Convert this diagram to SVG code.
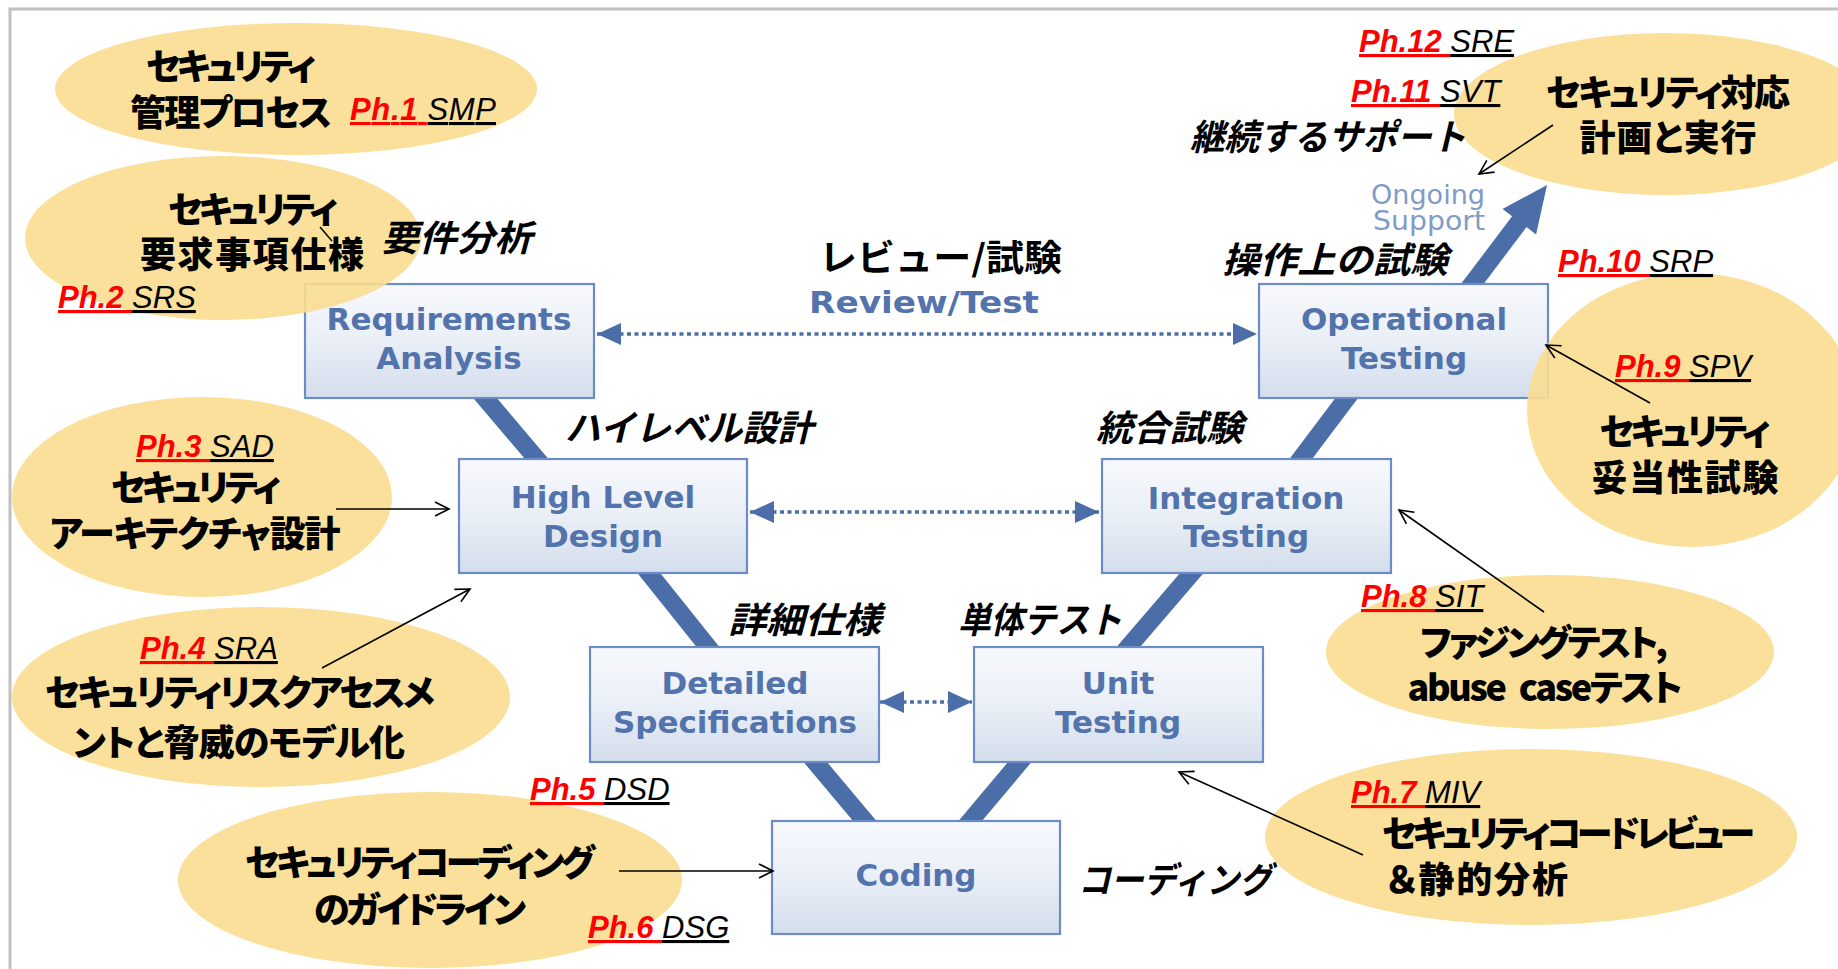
<svg xmlns="http://www.w3.org/2000/svg" width="1838" height="969" viewBox="0 0 1838 969">
<defs>
  <linearGradient id="boxGrad" x1="0" y1="0" x2="0" y2="1">
    <stop offset="0" stop-color="#f7f9fd"/>
    <stop offset="0.5" stop-color="#eaeff7"/>
    <stop offset="1" stop-color="#d3ddec"/>
  </linearGradient>
  <marker id="blueHead" markerUnits="userSpaceOnUse" markerWidth="24" markerHeight="22" refX="24" refY="11" orient="auto-start-reverse" viewBox="0 0 24 22">
    <path d="M0,0 L24,11 L0,22 Z" fill="#4b6ea8"/>
  </marker>
  <marker id="openHead" markerUnits="userSpaceOnUse" markerWidth="18" markerHeight="18" refX="16" refY="9" orient="auto" viewBox="0 0 18 18">
    <path d="M2,2 L16,9 L2,16" fill="none" stroke="#000" stroke-width="1.6"/>
  </marker>
  <style>
    .box { fill:url(#boxGrad); stroke:#6b8cc4; stroke-width:2.2; }
    .btxt { font-family:"DejaVu Sans", Verdana, sans-serif; font-weight:bold; font-size:31px; fill:#5273ab; text-anchor:middle; }
    .vbar { stroke:#4b6ea8; stroke-width:18; fill:none; }
    .dot { stroke:#4b6ea8; stroke-width:3.5; stroke-dasharray:4 3.5; fill:none; marker-start:url(#blueHead); marker-end:url(#blueHead); }
    .ell { fill:#f9dd90; fill-opacity:0.9; }
    .jb { font-family:"Noto Sans CJK JP", sans-serif; font-weight:900; font-size:36px; font-feature-settings:"palt"; fill:#000; }
    .mid { text-anchor:middle; }
    .ji { font-family:"Noto Sans CJK JP", sans-serif; font-style:italic; font-weight:bold; font-size:36px; fill:#000; }
    .ph { font-family:"Liberation Sans", Arial, sans-serif; font-style:italic; font-size:31px; }
    .phn { fill:#ff0000; font-weight:bold; text-decoration:underline; }
    .acr { fill:#000; text-decoration:underline; }
    .thin { stroke:#000; stroke-width:1.6; fill:none; marker-end:url(#openHead); }
  </style>
</defs>

<rect width="1838" height="969" fill="#ffffff"/>
<path d="M10,969 L10,9 L1838,9" fill="none" stroke="#c0c0c0" stroke-width="3"/>

<g id="connectors">
  <line class="vbar" x1="479" y1="391" x2="541" y2="464"/>
  <line class="vbar" x1="644" y1="567" x2="712" y2="652"/>
  <line class="vbar" x1="811" y1="757" x2="869" y2="826"/>
  <line class="vbar" x1="966" y1="826" x2="1024" y2="757"/>
  <line class="vbar" x1="1124" y1="652" x2="1197" y2="567"/>
  <line class="vbar" x1="1297" y1="464" x2="1352" y2="391"/>
  <polygon id="ongoing-arrow" points="1459.8,285.6 1512.1,216.3 1502.5,209 1547,185 1536.1,234.4 1526.5,227.1 1474.2,296.4" fill="#4b6ea8"/>
  <line class="dot" x1="597" y1="334" x2="1257" y2="334"/>
  <line class="dot" x1="750" y1="512" x2="1099" y2="512"/>
  <line class="dot" x1="880" y1="702" x2="972" y2="702"/>
</g>

<g id="box-req"><rect class="box" x="305" y="284" width="289" height="114"/>
  <text class="btxt" x="449" y="330">Requirements</text><text class="btxt" x="449" y="369">Analysis</text></g>
<g id="box-hld"><rect class="box" x="459" y="459" width="288" height="114"/>
  <text class="btxt" x="603" y="508">High Level</text><text class="btxt" x="603" y="547">Design</text></g>
<g id="box-ds"><rect class="box" x="590" y="647" width="289" height="115"/>
  <text class="btxt" x="735" y="694">Detailed</text><text class="btxt" x="735" y="733">Specifications</text></g>
<g id="box-coding"><rect class="box" x="772" y="821" width="288" height="113"/>
  <text class="btxt" x="916" y="886">Coding</text></g>
<g id="box-ut"><rect class="box" x="974" y="647" width="289" height="115"/>
  <text class="btxt" x="1118" y="694">Unit</text><text class="btxt" x="1118" y="733">Testing</text></g>
<g id="box-it"><rect class="box" x="1102" y="459" width="289" height="114"/>
  <text class="btxt" x="1246" y="509">Integration</text><text class="btxt" x="1246" y="547">Testing</text></g>
<g id="box-ot"><rect class="box" x="1259" y="284" width="289" height="114"/>
  <text class="btxt" x="1404" y="330">Operational</text><text class="btxt" x="1404" y="369">Testing</text></g>

<g id="review-label">
  <text x="819" y="271" font-family="'Noto Sans CJK JP', sans-serif" font-weight="bold" font-size="36" textLength="243" lengthAdjust="spacingAndGlyphs">レビュー/試験</text>
  <text class="btxt" x="924" y="313" font-size="31" textLength="230" lengthAdjust="spacingAndGlyphs">Review/Test</text>
</g>
<g id="ongoing-label">
  <text x="1428" y="204" font-family="'DejaVu Sans', Verdana, sans-serif" font-size="27" fill="#7f9bc8" text-anchor="middle" textLength="114" lengthAdjust="spacingAndGlyphs">Ongoing</text>
  <text x="1429" y="230" font-family="'DejaVu Sans', Verdana, sans-serif" font-size="27" fill="#7f9bc8" text-anchor="middle" textLength="112" lengthAdjust="spacingAndGlyphs">Support</text>
</g>

<g id="ph1">
  <ellipse class="ell" cx="296" cy="89" rx="241" ry="66"/>
  <text class="jb mid" x="231" y="80" textLength="170">セキュリティ</text>
  <text class="jb mid" x="231" y="126" textLength="202">管理プロセス</text>
  <text class="ph" x="350" y="120" textLength="146"><tspan class="phn">Ph.1 </tspan><tspan class="acr">SMP</tspan></text>
</g>
<g id="ph2">
  <ellipse class="ell" cx="223" cy="238" rx="198" ry="82"/>
  <text class="jb mid" x="253" y="223" textLength="170">セキュリティ</text>
  <text class="jb mid" x="252" y="268" textLength="224">要求事項仕様</text>
  <line x1="320" y1="227" x2="332" y2="241" stroke="#000" stroke-width="1.5"/>
  <text class="ph" x="58" y="308"><tspan class="phn">Ph.2 </tspan><tspan class="acr">SRS</tspan></text>
</g>
<g id="ph3">
  <ellipse class="ell" cx="202" cy="497" rx="190" ry="100"/>
  <text class="ph" x="136" y="457"><tspan class="phn">Ph.3 </tspan><tspan class="acr">SAD</tspan></text>
  <text class="jb mid" x="196" y="501" textLength="170">セキュリティ</text>
  <text class="jb mid" x="195" y="547" textLength="291">アーキテクチャ設計</text>
</g>
<g id="ph4">
  <ellipse class="ell" cx="261" cy="697" rx="249" ry="90"/>
  <text class="ph" x="140" y="659"><tspan class="phn">Ph.4 </tspan><tspan class="acr">SRA</tspan></text>
  <text class="jb mid" x="240" y="706" textLength="390">セキュリティリスクアセスメ</text>
  <text class="jb mid" x="239" y="756" textLength="332">ントと脅威のモデル化</text>
</g>
<g id="ph5-ph6">
  <ellipse class="ell" cx="430" cy="880" rx="252" ry="88"/>
  <text class="jb mid" x="420" y="876" textLength="350">セキュリティコーディング</text>
  <text class="jb mid" x="420" y="923" textLength="212">のガイドライン</text>
  <text class="ph" x="530" y="800"><tspan class="phn">Ph.5 </tspan><tspan class="acr">DSD</tspan></text>
  <text class="ph" x="588" y="938"><tspan class="phn">Ph.6 </tspan><tspan class="acr">DSG</tspan></text>
</g>
<g id="ph7">
  <ellipse class="ell" cx="1531" cy="837" rx="266" ry="88"/>
  <text class="ph" x="1351" y="803"><tspan class="phn">Ph.7 </tspan><tspan class="acr">MIV</tspan></text>
  <text class="jb" x="1382" y="847" textLength="373">セキュリティコードレビュー</text>
  <text class="jb" x="1387" y="893" textLength="181">＆静的分析</text>
</g>
<g id="ph8">
  <ellipse class="ell" cx="1550" cy="652" rx="224" ry="77"/>
  <text class="ph" x="1361" y="607"><tspan class="phn">Ph.8 </tspan><tspan class="acr">SIT</tspan></text>
  <text class="jb mid" x="1544" y="656" textLength="248">ファジングテスト,</text>
  <text class="jb mid" x="1545" y="701" textLength="275">abuse <tspan dx="8">caseテスト</tspan></text>
</g>
<g id="ph9">
  <ellipse class="ell" cx="1692" cy="410" rx="165" ry="137"/>
  <text class="ph" x="1615" y="377"><tspan class="phn">Ph.9 </tspan><tspan class="acr">SPV</tspan></text>
  <text class="jb mid" x="1685" y="445" textLength="171">セキュリティ</text>
  <text class="jb mid" x="1685" y="491" textLength="187">妥当性試験</text>
</g>
<g id="ph10">
  <text class="ph" x="1558" y="272"><tspan class="phn">Ph.10 </tspan><tspan class="acr">SRP</tspan></text>
</g>
<g id="ph11-ph12">
  <ellipse class="ell" cx="1665" cy="114" rx="211" ry="81"/>
  <text class="ph" x="1359" y="52"><tspan class="phn">Ph.12 </tspan><tspan class="acr">SRE</tspan></text>
  <text class="ph" x="1351" y="102"><tspan class="phn">Ph.11 </tspan><tspan class="acr">SVT</tspan></text>
  <text class="jb mid" x="1668" y="106" textLength="244">セキュリティ対応</text>
  <text class="jb mid" x="1668" y="151" textLength="177">計画と実行</text>
</g>

<g id="phase-labels">
  <text class="ji" x="381" y="251" textLength="151" lengthAdjust="spacingAndGlyphs">要件分析</text>
  <text class="ji" x="565" y="441" textLength="248" lengthAdjust="spacingAndGlyphs">ハイレベル設計</text>
  <text class="ji" x="1096" y="441" textLength="147" lengthAdjust="spacingAndGlyphs">統合試験</text>
  <text class="ji" x="728" y="633" textLength="153" lengthAdjust="spacingAndGlyphs">詳細仕様</text>
  <text class="ji" x="958" y="633" textLength="164" lengthAdjust="spacingAndGlyphs">単体テスト</text>
  <text class="ji" x="1222" y="273" textLength="226" lengthAdjust="spacingAndGlyphs">操作上の試験</text>
  <text class="ji" x="1190" y="150" textLength="276" lengthAdjust="spacingAndGlyphs">継続するサポート</text>
  <text class="ji" x="1078" y="893" textLength="194" lengthAdjust="spacingAndGlyphs">コーディング</text>
</g>

<g id="pointer-arrows">
  <line class="thin" x1="336" y1="509" x2="449" y2="509"/>
  <line class="thin" x1="322" y1="668" x2="470" y2="589"/>
  <line class="thin" x1="619" y1="871" x2="773" y2="871"/>
  <line class="thin" x1="1363" y1="855" x2="1179" y2="772"/>
  <line class="thin" x1="1544" y1="612" x2="1399" y2="510"/>
  <line class="thin" x1="1650" y1="403" x2="1546" y2="345"/>
  <line class="thin" x1="1553" y1="125" x2="1479" y2="174"/>
</g>
</svg>
